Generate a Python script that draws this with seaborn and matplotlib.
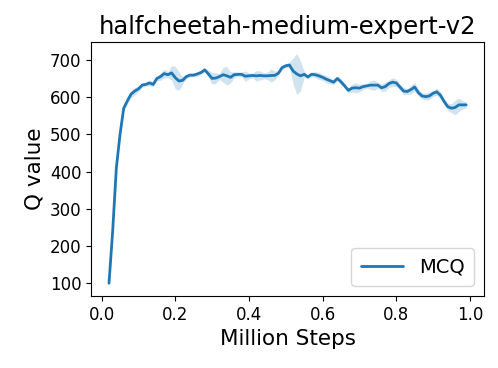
import numpy as np
import pandas as pd
import matplotlib
matplotlib.use("Agg")
import matplotlib.pyplot as plt
import seaborn as sns

# Values (Million Steps, mean Q value, half-width of shaded band)
steps = [round(0.02 + 0.01 * i, 2) for i in range(98)]
q_mean = [
    100, 240, 410, 500, 570, 590, 608, 616, 622, 632,
    634, 638, 634, 650, 655, 663, 660, 665, 652, 643,
    645, 655, 659, 659, 662, 666, 673, 662, 650, 651,
    655, 660, 657, 653, 660, 661, 661, 656, 657, 658,
    657, 658, 657, 657, 658, 658, 664, 679, 684, 686,
    670, 662, 657, 661, 654, 661, 660, 657, 653, 648,
    644, 640, 650, 641, 630, 618, 624, 625, 624, 628,
    630, 632, 632, 632, 625, 628, 636, 640, 638, 627,
    616, 615, 620, 627, 612, 603, 601, 603, 610, 614,
    605, 588, 574, 570, 572, 579, 579, 579,
]
q_band = [
    3, 3, 3, 3, 5, 8, 10, 10, 8, 6,
    5, 8, 6, 6, 10, 12, 8, 20, 30, 25,
    10, 5, 5, 5, 6, 6, 5, 10, 16, 14,
    8, 20, 25, 15, 8, 6, 6, 14, 8, 6,
    14, 12, 8, 10, 18, 12, 6, 5, 5, 8,
    35, 55, 40, 8, 6, 6, 8, 10, 8, 10,
    8, 6, 6, 8, 6, 6, 10, 14, 10, 8,
    6, 12, 14, 8, 10, 12, 10, 12, 10, 8,
    10, 8, 12, 12, 10, 8, 10, 10, 8, 10,
    8, 8, 10, 12, 20, 18, 12, 8,
]

# two rows per step (lower / upper) so seaborn draws the band as the full range
df = pd.DataFrame({
    "Million Steps": steps * 2,
    "Q value": [m - b for m, b in zip(q_mean, q_band)] + [m + b for m, b in zip(q_mean, q_band)],
    "algo": ["MCQ"] * (2 * len(steps)),
})

sns.set_style("ticks")
plt.rcParams.update({
    "text.color": "black",
    "axes.labelcolor": "black",
    "xtick.color": "black",
    "ytick.color": "black",
    "axes.edgecolor": "black",
})
fig = plt.figure(figsize=(4.98, 3.68), dpi=100)
ax = fig.add_axes([0.183, 0.196, 0.789, 0.69])

sns.lineplot(data=df, x="Million Steps", y="Q value", hue="algo",
             errorbar=("pi", 100), palette=["#1f77b4"], linewidth=2,
             err_kws={"alpha": 0.2, "linewidth": 0}, ax=ax)

ax.set_title("halfcheetah-medium-expert-v2", fontsize=17.5)
ax.set_xlabel("Million Steps", fontsize=15.5)
ax.set_ylabel("Q value", fontsize=15.5)
ax.tick_params(labelsize=12)
ax.set_xticks([0.0, 0.2, 0.4, 0.6, 0.8, 1.0])
ax.set_yticks([100, 200, 300, 400, 500, 600, 700])

ax.legend(loc="lower right", fontsize=14, handlelength=2.2, borderpad=0.5)

fig.savefig("out.png", dpi=100)
